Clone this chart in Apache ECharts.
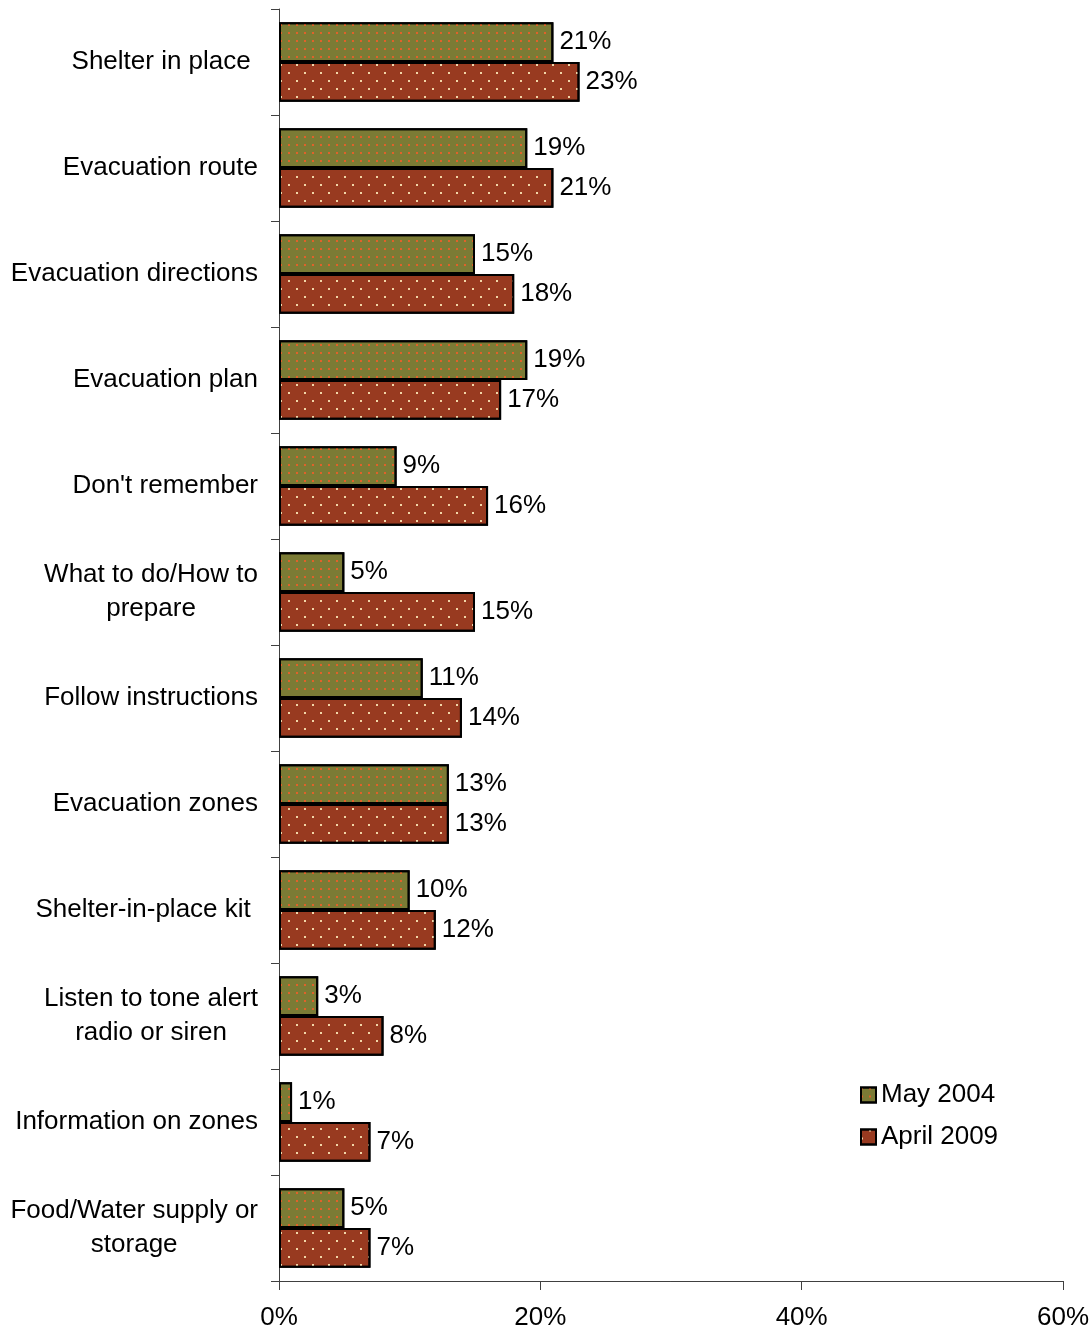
<!DOCTYPE html>
<html>
<head>
<meta charset="utf-8">
<script src="https://cdn.jsdelivr.net/npm/echarts@6/dist/echarts.min.js"></script>
<style>
html,body{margin:0;padding:0;background:#fff;}
#chart{width:1092px;height:1331px;}
</style>
</head>
<body>
<div id="chart"></div>
<script>
const categories = [
  "Shelter in place ",
  "Evacuation route",
  "Evacuation directions",
  "Evacuation plan",
  "Don't remember",
  "What to do/How to\nprepare",
  "Follow instructions",
  "Evacuation zones",
  "Shelter-in-place kit ",
  "Listen to tone alert\nradio or siren",
  "Information on zones",
  "Food/Water supply or\nstorage"
];
const may2004 = [21, 19, 15, 19, 9, 5, 11, 13, 10, 3, 1, 5];
const april2009 = [23, 21, 18, 17, 16, 15, 14, 13, 12, 8, 7, 7];
const seriesNames = ["May 2004", "April 2009"];

const FONT = '"Liberation Sans", Arial, Helvetica, sans-serif';
const chart = echarts.init(document.getElementById('chart'), null, {renderer: 'canvas'});

const labelStyle = {
  show: true, position: 'right', distance: 6,
  formatter: '{c}%', fontSize: 26, fontFamily: FONT, color: '#000'
};

chart.setOption({
  animation: false,
  backgroundColor: '#fff',
  grid: {left: 279, right: 27, top: 9, bottom: 48, containLabel: false},
  legend: {
    orient: 'vertical', left: 855, top: 1077,
    itemWidth: 15, itemHeight: 15, itemGap: 16,
    icon: 'rect',
    textStyle: {fontSize: 26, fontFamily: FONT, color: '#000'},
    data: seriesNames
  },
  xAxis: {
    type: 'value', min: 0, max: 60, interval: 20,
    axisLine: {show: true, lineStyle: {color: '#404040', width: 1}},
    axisTick: {show: true, length: 9, lineStyle: {color: '#404040'}},
    splitLine: {show: false},
    axisLabel: {formatter: '{value}%', fontSize: 26, fontFamily: FONT, color: '#000', margin: 24}
  },
  yAxis: {
    type: 'category', inverse: true, data: categories,
    axisLine: {show: true, lineStyle: {color: '#404040', width: 1}},
    axisTick: {show: true, length: 8, lineStyle: {color: '#404040'}},
    axisLabel: {
      fontSize: 26, fontFamily: FONT, color: '#000', margin: 21, lineHeight: 34,
      formatter: function (v) {
        return v.split('\n').map(l => '{c|' + l + '}').join('\n');
      },
      rich: {c: {align: 'center', fontSize: 26, fontFamily: FONT, color: '#000', lineHeight: 34}}
    }
  },
  series: [
    {
      name: seriesNames[0], type: 'bar', data: may2004,
      barGap: '0%', barCategoryGap: '25%',
      itemStyle: {
        color: '#7b7b35', borderColor: '#000', borderWidth: 2,
        decal: {symbol: 'rect', symbolSize: 1, color: '#e0622a',
          dashArrayX: [[2, 6]], dashArrayY: [2, 6]}
      },
      label: labelStyle
    },
    {
      name: seriesNames[1], type: 'bar', data: april2009,
      barGap: '0%', barCategoryGap: '25%',
      itemStyle: {
        color: '#983a20', borderColor: '#000', borderWidth: 2,
        decal: {symbol: 'rect', symbolSize: 1, color: '#f2d6a8',
          dashArrayX: [[2, 14], [0, 8, 2, 6]], dashArrayY: [2, 6]}
      },
      label: labelStyle
    }
  ]
});
</script>
</body>
</html>
